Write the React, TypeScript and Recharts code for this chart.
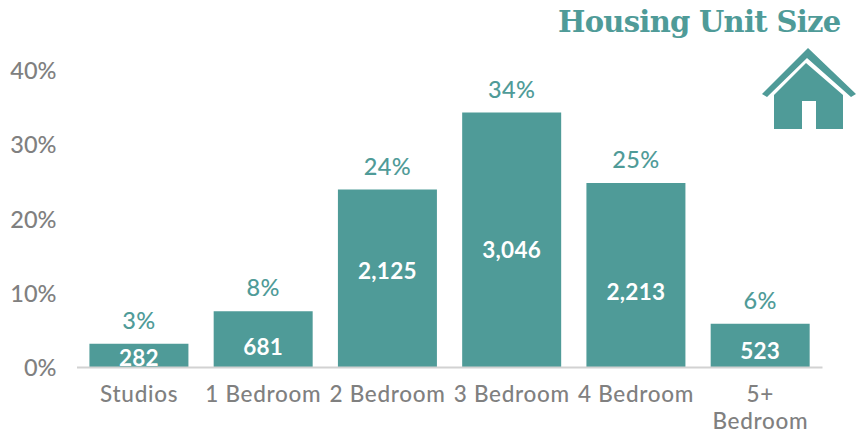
import React from "react";
import { BarChart, Bar, XAxis, YAxis, LabelList } from "recharts";

const categories = ["Studios", "1 Bedroom", "2 Bedroom", "3 Bedroom", "4 Bedroom", "5+ Bedroom"];
const shares = [3.2, 7.6, 24, 34.4, 24.9, 5.9];
const shareLabels = ["3%", "8%", "24%", "34%", "25%", "6%"];
const counts = ["282", "681", "2,125", "3,046", "2,213", "523"];
const yTicks = [0, 10, 20, 30, 40];

const TEAL = "#4f9b98";
const GREY = "#808080";
const FONT = "Lato, sans-serif";
const countNudge = [2, 8, -8, 10, 17, 5];

const data = categories.map((name, i) => ({ name, share: shares[i], shareLabel: shareLabels[i], count: counts[i] }));

const CategoryTick = (props: any) => {
  const { x, y, payload } = props;
  const v: string = payload.value;
  const lines = v.startsWith("5+") ? v.split(" ") : [v];
  return (
    <text x={x} textAnchor="middle" fill={GREY} fontFamily={FONT} fontSize={22.5} fontWeight={500} letterSpacing={0.7}>
      {lines.map((l, i) => (
        <tspan key={l} x={x} y={y + 26 + i * 27}>{l}</tspan>
      ))}
    </text>
  );
};

const CountLabel = (props: any) => {
  const { x, y, width, height, index, value } = props;
  return (
    <text x={x + width / 2} y={y + height / 2 + countNudge[index]} dy={8} textAnchor="middle" fill="#fff" fontFamily={FONT} fontSize={22.5} fontWeight={700} letterSpacing={0.3}>
      {value}
    </text>
  );
};

const ShareLabel = (props: any) => {
  const { x, y, width, value } = props;
  return (
    <text x={x + width / 2} y={y - 15} textAnchor="middle" fill={TEAL} fontFamily={FONT} fontSize={23.5} fontWeight={500} letterSpacing={0.4}>
      {value}
    </text>
  );
};

export default function App() {
  return (
    <div style={{ position: "relative", width: 866, height: 438, margin: -8, background: "#fff", overflow: "hidden" }}>
      <BarChart width={866} height={438} data={data} margin={{ top: 71, right: 43.5, bottom: 0, left: 7 }} barCategoryGap="10%">
        <XAxis dataKey="name" height={70.5} interval={0} tick={<CategoryTick />} tickLine={false} axisLine={{ stroke: "#d2d2d2", strokeWidth: 2 }} />
        <YAxis
          width={70}
          domain={[0, 40]}
          ticks={yTicks}
          tickFormatter={(v: number) => `${v}%`}
          axisLine={false}
          tickLine={false}
          tickMargin={14.5}
          tick={{ fill: GREY, fontFamily: FONT, fontSize: 23.5, fontWeight: 500 }}
        />
        <Bar dataKey="share" fill={TEAL} isAnimationActive={false}>
          <LabelList dataKey="shareLabel" content={<ShareLabel />} />
          <LabelList dataKey="count" content={<CountLabel />} />
        </Bar>
      </BarChart>
      <div style={{ position: "absolute", left: 558, top: 1, fontFamily: "'DejaVu Serif', serif", fontWeight: 700, fontSize: 29, lineHeight: "42px", color: TEAL, whiteSpace: "nowrap", letterSpacing: -0.7 }}>
        Housing Unit Size
      </div>
      <svg style={{ position: "absolute", left: 0, top: 0 }} width={866} height={438}>
        <path d="M762 94 L808 48 L856 94 L851 97 L807 58 L767 97 Z" fill={TEAL} />
        <path d="M806 63 L843 95 L843 129 L816 129 L816 101 L802 101 L802 129 L774 129 L774 95 Z" fill={TEAL} />
      </svg>
    </div>
  );
}
